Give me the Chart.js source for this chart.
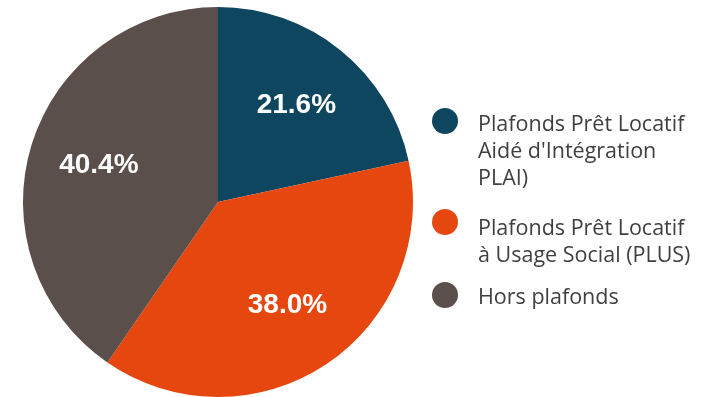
<!DOCTYPE html>
<html>
<head>
<meta charset="utf-8">
<script src="https://cdn.jsdelivr.net/npm/chart.js@4.4.1/dist/chart.umd.min.js"></script>
<style>
  body { margin: 0; background: #fff; }
  #wrap { position: relative; width: 718px; height: 397px; }
  #pie { position: absolute; left: 0; top: 0; width: 436px; height: 397px; }
  #legend { position: absolute; left: 0; top: 0; font-family: "Open Sans", sans-serif; font-size: 21.5px; color: #3f3f3f; }
  .dot { position: absolute; left: 432px; width: 26px; height: 26px; border-radius: 50%; }
  .txt { position: absolute; left: 478px; white-space: nowrap; line-height: 27px; }
</style>
</head>
<body>
<div id="wrap">
  <div id="pie"><canvas id="myChart"></canvas></div>
  <div id="legend"></div>
</div>
<script>
var labels = [
  ["Plafonds Prêt Locatif", "Aidé d'Intégration", "PLAI)"],
  ["Plafonds Prêt Locatif", "à Usage Social (PLUS)"],
  ["Hors plafonds"]
];
var values = [21.6, 38.0, 40.4];
var colors = ['#0e4660', '#e5470f', '#5b4f4b'];
var dotY = [121, 222, 295];
var textY = [122, 226, 295];

// etiquetas de porcentaje dentro de cada porción
var pctLabels = {
  id: 'pctLabels',
  afterDatasetsDraw: function (chart) {
    var ctx = chart.ctx;
    var meta = chart.getDatasetMeta(0);
    ctx.save();
    ctx.fillStyle = '#ffffff';
    ctx.font = 'bold 28px "Liberation Sans", Arial, sans-serif';
    ctx.textAlign = 'center';
    ctx.textBaseline = 'middle';
    meta.data.forEach(function (arc, i) {
      var mid = (arc.startAngle + arc.endAngle) / 2;
      var r = arc.outerRadius * 0.64;
      var x = arc.x + Math.cos(mid) * r;
      var y = arc.y + Math.sin(mid) * r;
      ctx.fillText(values[i].toFixed(1) + '%', x, y);
    });
    ctx.restore();
  }
};

var ctx = document.getElementById('myChart').getContext('2d');
var myChart = new Chart(ctx, {
  type: 'pie',
  data: {
    labels: labels.map(function (l) { return l.join(' '); }),
    datasets: [{
      data: values,
      backgroundColor: colors,
      borderWidth: 0
    }]
  },
  options: {
    responsive: true,
    maintainAspectRatio: false,
    animation: false,
    layout: { padding: { top: 7, bottom: 0, left: 0, right: 0 } },
    plugins: {
      legend: { display: false },
      tooltip: { enabled: false }
    }
  },
  plugins: [pctLabels]
});

// leyenda a la derecha, con texto en varias líneas
var legend = document.getElementById('legend');
labels.forEach(function (l, i) {
  var dot = document.createElement('div');
  dot.className = 'dot';
  dot.style.top = (dotY[i] - 13) + 'px';
  dot.style.background = colors[i];
  legend.appendChild(dot);
  var txt = document.createElement('div');
  txt.className = 'txt';
  txt.style.top = (textY[i] - 13.5) + 'px';
  txt.innerHTML = l.join('<br>');
  legend.appendChild(txt);
});
</script>
</body>
</html>
